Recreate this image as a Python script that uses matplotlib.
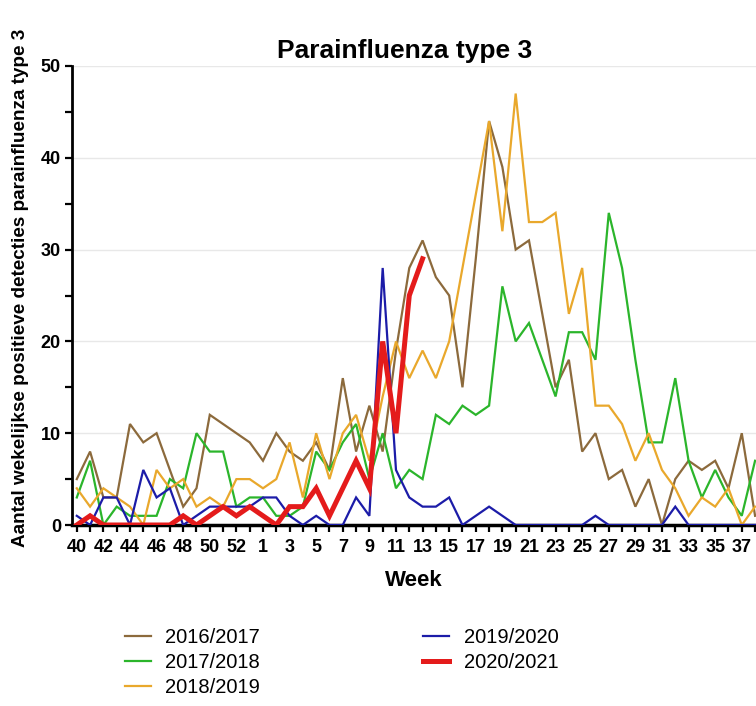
import numpy as np
import matplotlib
matplotlib.use("Agg")
import matplotlib.pyplot as plt
from matplotlib.ticker import MultipleLocator

plt.rcParams['font.family'] = ['Liberation Sans', 'DejaVu Sans']

# week numbers along the x axis (season runs from week 40 to week 38)
weeks = [40, 41, 42, 43, 44, 45, 46, 47, 48, 49, 50, 51, 52, 53,
         1, 2, 3, 4, 5, 6, 7, 8, 9, 10, 11, 12, 13, 14, 15, 16, 17, 18, 19,
         20, 21, 22, 23, 24, 25, 26, 27, 28, 29, 30, 31, 32, 33, 34, 35, 36, 37, 38]

s2016 = [5, 8, 3, 3, 11, 9, 10, 6, 2, 4, 12, 11, 10, 9,
         7, 10, 8, 7, 9, 6, 16, 8, 13, 8, 19, 28, 31, 27, 25, 15, 29, 44, 39,
         30, 31, 23, 15, 18, 8, 10, 5, 6, 2, 5, 0, 5, 7, 6, 7, 4, 10, 1]
s2017 = [3, 7, 0, 2, 1, 1, 1, 5, 4, 10, 8, 8, 2, 3,
         3, 1, 1, 2, 8, 6, 9, 11, 5, 10, 4, 6, 5, 12, 11, 13, 12, 13, 26,
         20, 22, 18, 14, 21, 21, 18, 34, 28, 18, 9, 9, 16, 7, 3, 6, 3, 1, 7]
s2018 = [4, 2, 4, 3, 2, 0, 6, 4, 5, 2, 3, 2, 5, 5,
         4, 5, 9, 3, 10, 5, 10, 12, 7, 14, 20, 16, 19, 16, 20, 28, 36, 44, 32,
         47, 33, 33, 34, 23, 28, 13, 13, 11, 7, 10, 6, 4, 1, 3, 2, 4, 0, 2]
s2019 = [1, 0, 3, 3, 0, 6, 3, 4, 0, 1, 2, 2, 2, 2,
         3, 3, 1, 0, 1, 0, 0, 3, 1, 28, 6, 3, 2, 2, 3, 0, 1, 2, 1,
         0, 0, 0, 0, 0, 0, 1, 0, 0, 0, 0, 0, 2, 0, 0, 0, 0, 0, 0]
s2020 = [0, 1, 0, 0, 0, 0, 0, 0, 1, 0, 1, 2, 1, 2,
         1, 0, 2, 2, 4, 1, 4, 7, 4, 20, 10, 25, 29]

labels = ['2016/2017', '2017/2018', '2018/2019', '2019/2020', '2020/2021']
series = [s2016, s2017, s2018, s2019, s2020]
colors = ['#8c6a3c', '#2bb52b', '#e9a82c', '#1c1ca8', '#e41b1b']
widths = [1.6, 1.6, 1.6, 1.6, 3.6]

x = np.arange(len(weeks))

fig = plt.figure(figsize=(7.56, 7.06), dpi=100)
ax = fig.add_axes([72/756, 181/706, 684/756, 459/706])

for vals, lab, c, lw in zip(series, labels, colors, widths):
    ax.plot(x[:len(vals)], vals, color=c, lw=lw, label=lab,
            solid_joinstyle='miter', zorder=3)

ax.set_xlim(-0.36, 51.07)
ax.set_ylim(0, 50)

ax.set_xticks(x)
ax.set_xticklabels([str(w) if i % 2 == 0 else '' for i, w in enumerate(weeks)])
ax.yaxis.set_major_locator(MultipleLocator(10))
ax.yaxis.set_minor_locator(MultipleLocator(5))

for lbl in ax.get_xticklabels() + ax.get_yticklabels():
    lbl.set_fontweight('bold')
    lbl.set_fontsize(13)

ax.tick_params(axis='x', which='major', length=5, width=1.6, pad=5)
ax.tick_params(axis='y', which='major', length=5, width=1.6, pad=3)
ax.tick_params(axis='y', which='minor', length=5, width=1.6)

ax.grid(axis='y', color='#e8e8e8', lw=1, zorder=0)
ax.set_axisbelow(True)

for side in ['top', 'right']:
    ax.spines[side].set_visible(False)
ax.spines['left'].set_linewidth(2)
ax.spines['bottom'].set_linewidth(2.5)
ax.spines['bottom'].set_zorder(2)

ax.set_xlabel('Week', fontsize=16, fontweight='bold', labelpad=10)

fig.text(405/756, 1 - 51/706, 'Parainfluenza type 3', ha='center', va='center',
         fontsize=19, fontweight='bold')
fig.text(21/756, 1 - 288/706,
         'Aantal wekelijkse positieve detecties parainfluenza type 3',
         rotation='vertical', ha='center', va='center',
         fontsize=13.6, fontweight='bold')

fig.legend(loc='upper left', bbox_to_anchor=(125/756, 1 - 628/706),
           ncol=2, frameon=False, fontsize=14.5, handlelength=1.3,
           handletextpad=0.7, columnspacing=8.1, labelspacing=0.3,
           borderpad=0, borderaxespad=0)

fig.savefig('out.png', dpi=100)
